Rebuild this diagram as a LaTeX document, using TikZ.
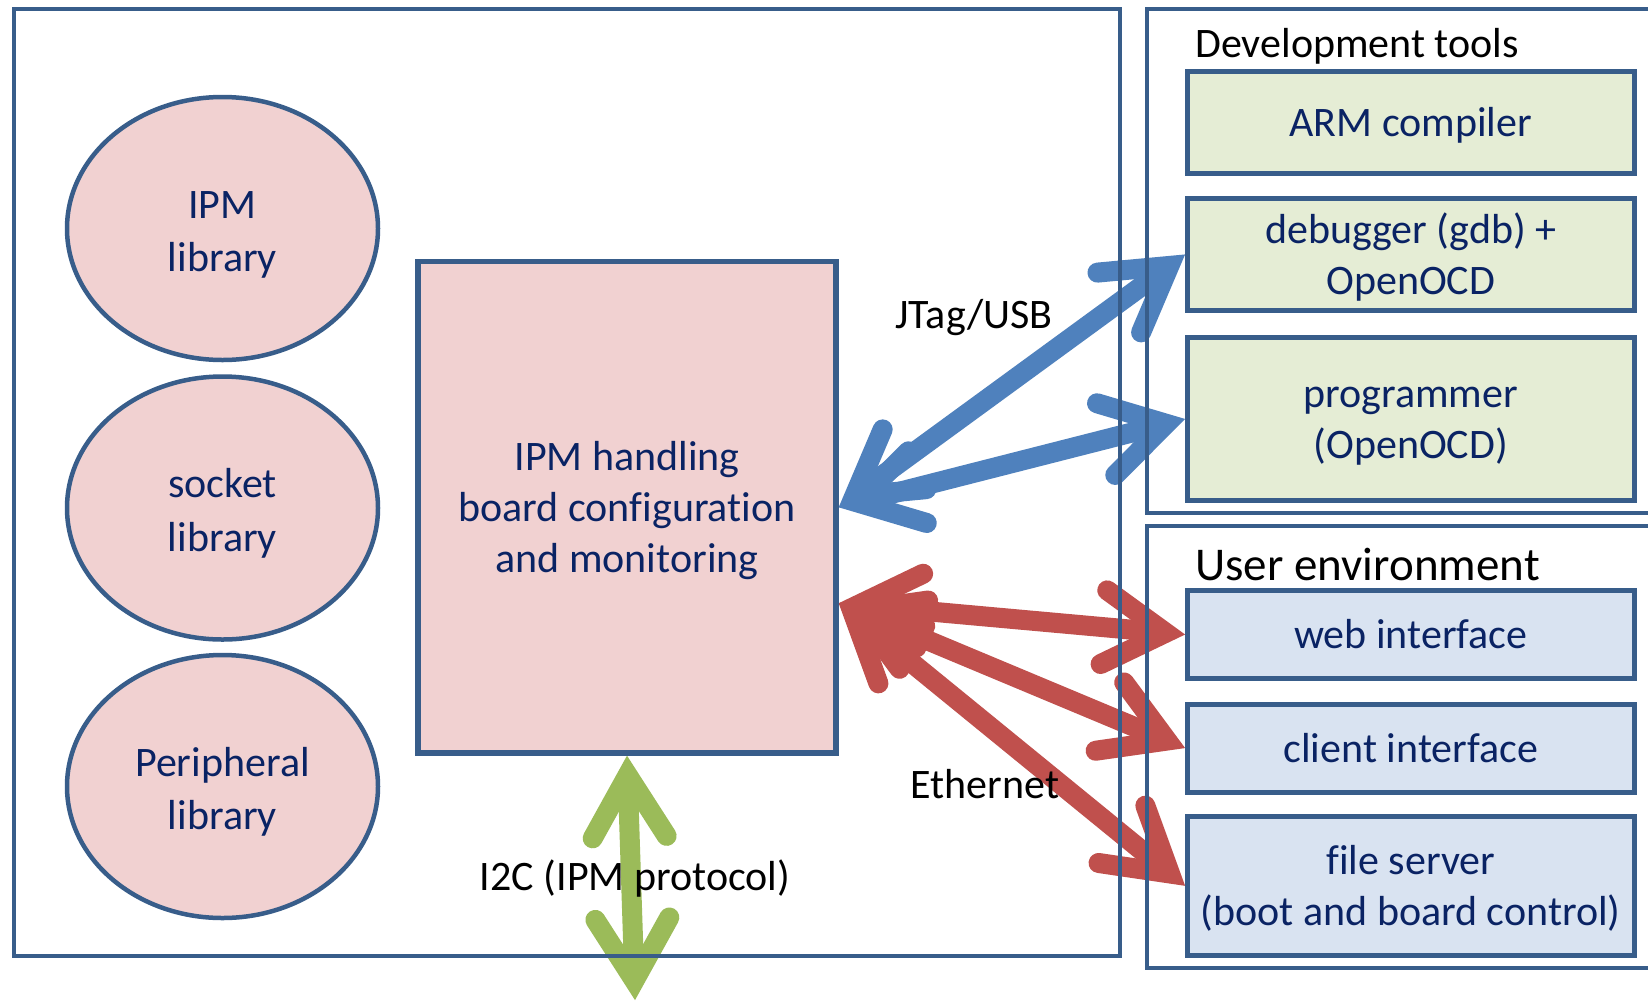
\documentclass[tikz,border=0pt]{standalone}
\usepackage{fontspec}
\setmainfont{Carlito}[Ligatures=NoCommon]
\usetikzlibrary{arrows.meta,shapes.geometric,fit,calc}

\definecolor{edge}{HTML}{385D8A}
\definecolor{ink}{HTML}{0A2364}
\definecolor{libfill}{HTML}{F1D1D1}
\definecolor{devfill}{HTML}{E5EDD5}
\definecolor{userfill}{HTML}{D9E3F1}
\definecolor{jtagblue}{HTML}{4F81BD}
\definecolor{ethred}{HTML}{C0504D}
\definecolor{i2cgreen}{HTML}{9BBB59}

% fixed line boxes, so that every label sits the same way in its shape
\newcommand{\lnstrut}{\rule[-5pt]{0pt}{24pt}}
\newcommand{\ellstrut}{\rule[-4.5pt]{0pt}{25.5pt}}

\pgfdeclarelayer{bg}
\pgfdeclarelayer{links}
\pgfsetlayers{bg,links,main}

% open chevron head: round barb ends, mitred point
\pgfdeclarearrow{
  name = OpenHead,
  defaults = {length = 31pt, width = 37pt},
  parameters = {\the\pgfarrowlength,\the\pgfarrowwidth},
  setup code = {
    \pgfarrowssettipend{9.7pt}
    \pgfarrowssetlineend{-1pt}
    \pgfarrowssetbackend{-36pt}
    \pgfarrowssavethe\pgfarrowlength
    \pgfarrowssavethe\pgfarrowwidth
  },
  drawing code = {
    \pgfsetlinewidth{10pt}
    \pgfsetroundcap
    \pgfsetmiterjoin
    \pgfsetdash{}{0pt}
    \pgfpathmoveto{\pgfqpoint{-\pgfarrowlength}{.5\pgfarrowwidth}}
    \pgfpathlineto{\pgfpointorigin}
    \pgfpathlineto{\pgfqpoint{-\pgfarrowlength}{-.5\pgfarrowwidth}}
    \pgfusepathqstroke
  }
}

\tikzset{
  lib/.style={ellipse, draw=edge, line width=2.25pt, fill=libfill, text=ink,
    minimum width=155.5pt, minimum height=131.5pt, inner sep=0pt, align=center,
    font=\fontsize{21}{26.85}\selectfont},
  core/.style={draw=edge, line width=2.75pt, fill=libfill, text=ink, inner sep=0pt,
    align=center, font=\fontsize{21}{25.5}\selectfont},
  tool/.style={draw=edge, line width=2.5pt, fill=devfill, text=ink, inner sep=0pt,
    minimum width=223.25pt, align=center, font=\fontsize{21}{25.5}\selectfont},
  usr/.style={tool, fill=userfill},
  outerbox/.style={draw=edge, line width=2pt, inner sep=0pt},
  lbl/.style={text=black, inner sep=0pt, font=\fontsize{21}{25}\selectfont},
  bigl/.style={lbl, font=\fontsize{23.5}{28}\selectfont},
  link/.style={line width=10pt, {OpenHead}-{OpenHead}},
}

\begin{document}
\begin{tikzpicture}[x=0.5pt, y=-0.5pt]
  \useasboundingbox (0,0) rectangle (1648,1002);
  \begin{pgfonlayer}{bg}
    \fill[white] (0,0) rectangle (1648,1002);
  \end{pgfonlayer}
  \clip (0,0) rectangle (1648,1002);

  % board side
  \node[outerbox, fit={(13.5,8.5) (1120,956)}] (board) {};
  \node[lib] (ipmlib) at (222.5,228.5) {\ellstrut IPM\\\ellstrut library};
  \node[lib] (socklib) at (222.5,508) {\ellstrut socket\\\ellstrut library};
  \node[lib] (perlib) at (222.5,786.5) {\ellstrut Peripheral\\\ellstrut library};
  \node[core, minimum width=209pt, minimum height=245.75pt] (ipm) at (627,507.25)
    {\lnstrut IPM handling\\\lnstrut board configuration\\\lnstrut and monitoring};

  % development tools
  \node[outerbox, fit={(1146.5,8.5) (1662,512.5)}] (devbox) {};
  \node[lbl, anchor=base west] (devtitle) at (1195,57) {Development tools};
  \node[tool, minimum height=50.75pt] (arm) at (1410.75,122.25) {\lnstrut ARM compiler};
  \node[tool, minimum height=56pt] (dbg) at (1410.75,254.5)
    {\lnstrut debugger (gdb) +\\\lnstrut OpenOCD};
  \node[tool, minimum height=81.5pt] (prog) at (1410.75,419)
    {\lnstrut programmer\\\lnstrut (OpenOCD)};

  % user environment
  \node[outerbox, fit={(1146.5,525.5) (1662,968)}] (userbox) {};
  \node[bigl, anchor=base west] (usertitle) at (1195,580) {User environment};
  \node[usr, minimum height=44pt] (web) at (1410.75,634.5) {\lnstrut web interface};
  \node[usr, minimum height=44pt] (client) at (1410.75,748) {\lnstrut client interface};
  \node[usr, minimum height=69.25pt] (files) at (1410.75,885.75)
    {\lnstrut file server\\\lnstrut (boot and board control)};

  \coordinate (ethport) at ($(ipm.east)+(0,96)$);
  \coordinate (busend) at (635,1000);

  % connections
  \begin{pgfonlayer}{links}
    \draw[link, jtagblue] (ipm.east) -- (dbg.west);
    \draw[link, jtagblue] (ipm.east) -- (prog.west);
    \draw[link, ethred] (ethport) -- (files.west);
    \draw[link, ethred] (ethport) -- (client.west);
    \draw[link, ethred] (ethport) -- (web.west);
    \draw[link, i2cgreen] (ipm.south) -- (busend);
  \end{pgfonlayer}

  \node[lbl, anchor=base] (jtag) at (974,328) {JTag/USB};
  \node[lbl, anchor=base] (eth) at (985,798) {Ethernet};
  \node[lbl, anchor=base] (i2c) at (635,890) {I2C (IPM protocol)};
\end{tikzpicture}
\end{document}
